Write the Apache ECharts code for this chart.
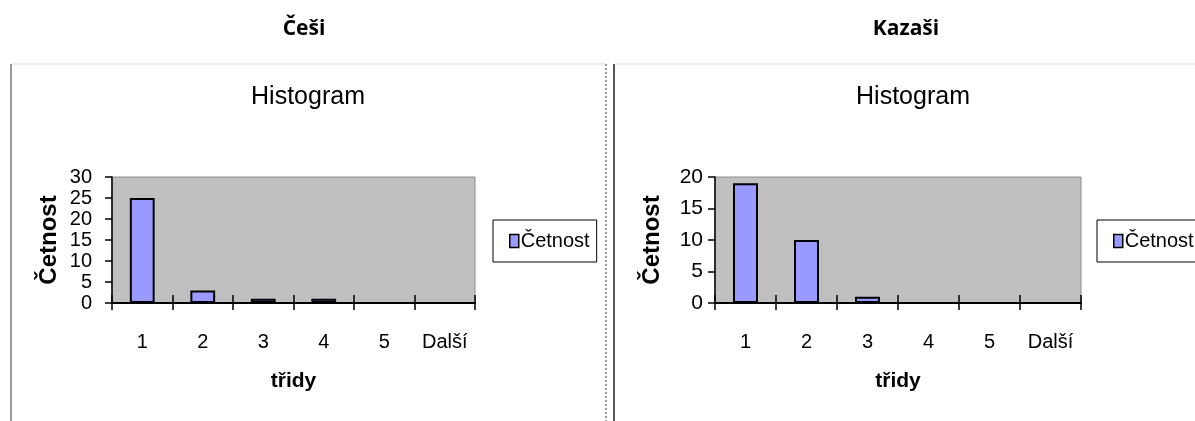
<!DOCTYPE html>
<html>
<head>
<meta charset="utf-8">
<script src="https://cdn.jsdelivr.net/npm/echarts@6/dist/echarts.min.js"></script>
<style>
  html, body { margin: 0; padding: 0; background: #ffffff; }
  #chart { width: 1195px; height: 421px; }
</style>
</head>
<body>
<div id="chart"></div>
<script>
// Frequency classes (bins) shared by both histograms
const categories = ['1', '2', '3', '4', '5', 'Další'];
// Frequencies per class
const cesiCounts = [25, 3, 1, 1, 0, 0];
const kazasiCounts = [19, 10, 1, 0, 0, 0];
// Group headings and chart texts
const groupNames = ['Češi', 'Kazaši'];
const chartTitle = 'Histogram';
const seriesName = 'Četnost';
const xName = 'třidy';
const yName = 'Četnost';
// Value-axis ranges
const yMax = [30, 20];
const yStep = 5;

const FONT = "'Liberation Sans', Arial, sans-serif";
const BAR_FILL = '#9999ff';

const panels = [
  { grid: { left: 112, top: 177, width: 363, height: 126 }, headX: 304, titleX: 308, legendX: 493,
    tickSize: 20, labelMargin: 20 },
  { grid: { left: 715, top: 177, width: 366, height: 126 }, headX: 906, titleX: 913, legendX: 1097,
    tickSize: 21, labelMargin: 12 }
];
const dataSets = [cesiCounts, kazasiCounts];

const option = {
  animation: false,
  backgroundColor: '#ffffff',
  textStyle: { fontFamily: FONT, color: '#000' },
  title: [],
  legend: [],
  grid: [],
  xAxis: [],
  yAxis: [],
  series: [],
  graphic: [
    // panel frames
    { type: 'line', shape: { x1: 11, y1: 64, x2: 606, y2: 64 }, style: { stroke: '#d9d9d9', lineWidth: 1 } },
    { type: 'line', shape: { x1: 11, y1: 64, x2: 11, y2: 421 }, style: { stroke: '#9a9a9a', lineWidth: 2 } },
    { type: 'line', shape: { x1: 606, y1: 64, x2: 606, y2: 421 }, style: { stroke: '#9a9a9a', lineWidth: 2, lineDash: [2, 2] } },
    { type: 'line', shape: { x1: 614, y1: 64, x2: 614, y2: 421 }, style: { stroke: '#555555', lineWidth: 2 } },
    { type: 'line', shape: { x1: 615, y1: 64, x2: 1195, y2: 64 }, style: { stroke: '#d9d9d9', lineWidth: 1 } }
  ]
};

panels.forEach(function (p, i) {
  const g = p.grid;
  // group heading
  option.title.push({
    text: groupNames[i],
    left: p.headX,
    top: 19,
    padding: 0,
    textAlign: 'center',
    textStyle: { fontFamily: "'Open Sans', sans-serif", fontWeight: 'bold', fontSize: 21, color: '#000' }
  });
  // chart title
  option.title.push({
    text: chartTitle,
    left: p.titleX,
    top: 85,
    padding: 0,
    textAlign: 'center',
    textStyle: { fontFamily: FONT, fontWeight: 'normal', fontSize: 25, color: '#000' }
  });
  option.legend.push({
    data: [{ name: seriesName }],
    left: p.legendX,
    top: 220,
    orient: 'vertical',
    padding: [11, 7, 11, 16],
    backgroundColor: '#ffffff',
    borderColor: '#000000',
    borderWidth: 1,
    borderRadius: 0,
    icon: 'rect',
    itemWidth: 9,
    itemHeight: 13,
    itemStyle: { borderColor: '#000', borderWidth: 1.5 },
    textStyle: { fontFamily: FONT, fontSize: 20, color: '#000', padding: [0, 0, 0, -3] }
  });
  option.grid.push({
    left: g.left, top: g.top, width: g.width, height: g.height,
    show: true, backgroundColor: '#c0c0c0', borderColor: '#8c8c8c', borderWidth: 1
  });
  // category axis: ticks pointing up into the plot, with labels and name
  option.xAxis.push({
    type: 'category',
    gridIndex: i,
    data: categories,
    position: 'bottom',
    boundaryGap: true,
    name: xName,
    nameLocation: 'middle',
    nameGap: 68,
    nameTextStyle: { fontFamily: FONT, fontWeight: 'bold', fontSize: 21, color: '#000' },
    axisLine: { show: true, lineStyle: { color: '#000', width: 2 } },
    axisTick: { show: true, inside: true, length: 8, lineStyle: { color: '#000', width: 1.5 } },
    axisLabel: { fontFamily: FONT, fontSize: 20, color: '#000', margin: 29 },
    splitLine: { show: false }
  });
  // companion axis drawing the downward half of the crossing ticks
  option.xAxis.push({
    type: 'category',
    gridIndex: i,
    data: categories,
    position: 'bottom',
    boundaryGap: true,
    axisLine: { show: false },
    axisTick: { show: true, inside: false, length: 7, lineStyle: { color: '#000', width: 1.5 } },
    axisLabel: { show: false },
    splitLine: { show: false }
  });
  option.yAxis.push({
    type: 'value',
    gridIndex: i,
    min: 0,
    max: yMax[i],
    interval: yStep,
    name: yName,
    nameLocation: 'middle',
    nameRotate: 90,
    nameGap: 51,
    nameTextStyle: { fontFamily: FONT, fontWeight: 'bold', fontSize: 24, color: '#000' },
    axisLine: { show: true, lineStyle: { color: '#000', width: 1.5 } },
    axisTick: { show: true, inside: false, length: 7, lineStyle: { color: '#000', width: 1.5 } },
    axisLabel: {
      fontFamily: FONT, fontSize: p.tickSize, color: '#000', margin: p.labelMargin,
      showMinLabel: true, showMaxLabel: true
    },
    splitLine: { show: false }
  });
  option.series.push({
    name: seriesName,
    type: 'bar',
    xAxisIndex: i * 2,
    yAxisIndex: i,
    data: dataSets[i],
    barWidth: '41%',
    itemStyle: { color: BAR_FILL, borderColor: '#000', borderWidth: 2 },
    legendHoverLink: false
  });
});

const chart = echarts.init(document.getElementById('chart'), null, { renderer: 'canvas' });
chart.setOption(option);
</script>
</body>
</html>
